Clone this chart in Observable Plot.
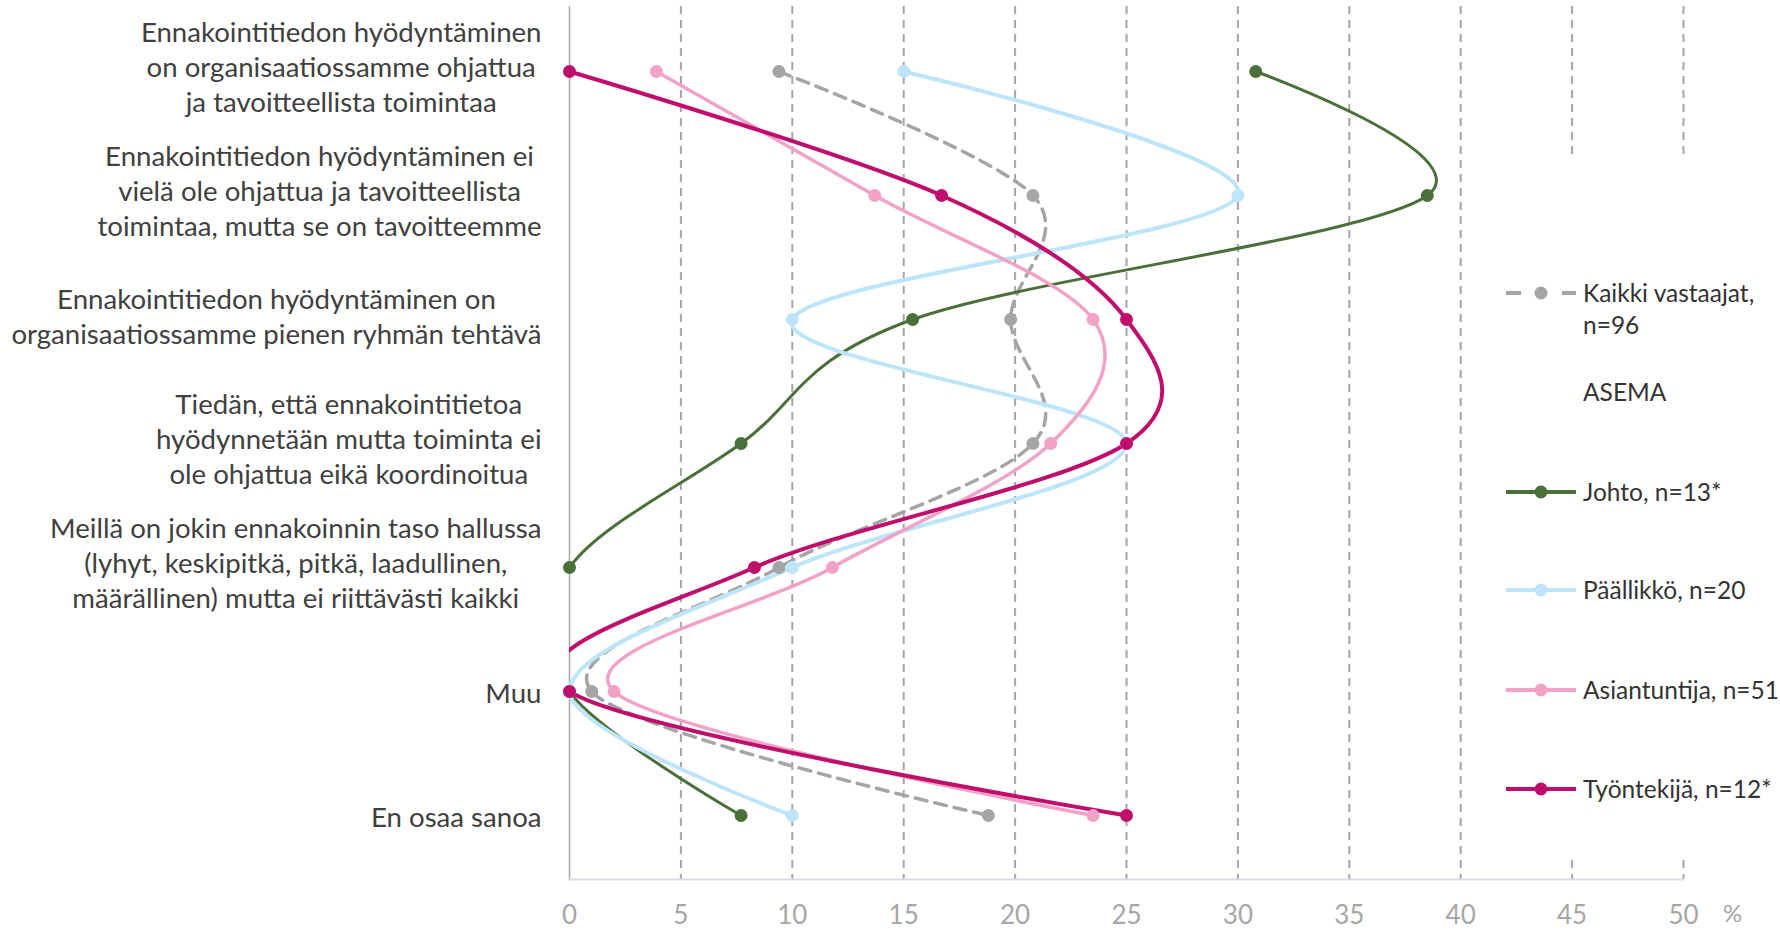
<!DOCTYPE html>
<html>
<head>
<meta charset="utf-8">
<script src="https://cdn.jsdelivr.net/npm/d3@7"></script>
<script src="https://cdn.jsdelivr.net/npm/@observablehq/plot@0.6"></script>
<style>
  body { margin: 0; background: #fff; }
  #wrap { position: relative; width: 1780px; height: 929px; overflow: hidden; }
  #legend { position: absolute; left: 1490px; top: 155px; width: 290px; height: 703px; background: #fff; }
  .lg { position: absolute; left: 93px; font-family: Lato, "Open Sans", sans-serif; font-size: 24.5px; color: #333; line-height: 32px; white-space: nowrap; }
  .sw { position: absolute; left: 16px; }
</style>
</head>
<body>
<div id="wrap"></div>
<script>
// ---- data ----
const categories = [
  "Ennakointitiedon hyödyntäminen\non organisaatiossamme ohjattua\nja tavoitteellista toimintaa",
  "Ennakointitiedon hyödyntäminen ei\nvielä ole ohjattua ja tavoitteellista\ntoimintaa, mutta se on tavoitteemme",
  "Ennakointitiedon hyödyntäminen on\norganisaatiossamme pienen ryhmän tehtävä",
  "Tiedän, että ennakointitietoa\nhyödynnetään mutta toiminta ei\nole ohjattua eikä koordinoitua",
  "Meillä on jokin ennakoinnin taso hallussa\n(lyhyt, keskipitkä, pitkä, laadullinen,\nmäärällinen) mutta ei riittävästi kaikki",
  "Muu",
  "En osaa sanoa"
];
const seriesNames = ["Kaikki vastaajat,\nn=96", "Johto, n=13*", "Päällikkö, n=20", "Asiantuntija, n=51", "Työntekijä, n=12*"];
const kaikki       = [9.4, 20.8, 19.8, 20.8, 9.4, 1.0, 18.8];
const johto        = [30.8, 38.5, 15.4, 7.7, 0, 0, 7.7];
const paallikko    = [15, 30, 10, 25, 10, 0, 10];
const asiantuntija = [3.9, 13.7, 23.5, 21.6, 11.8, 2.0, 23.5];
const tyontekija   = [0, 16.7, 25, 25, 8.3, 0, 25];
const xTicks = [0, 5, 10, 15, 20, 25, 30, 35, 40, 45, 50];
const legendGroupLabel = "ASEMA";
const unitLabel = "%";

// ---- styles ----
const colors = ["#a5a5a5", "#4a7039", "#bde5fa", "#f2a1c7", "#c00e6d"];
const widths = [3.5, 3, 4, 3.5, 4];
const dashes = ["12,8", null, null, null, null];
const FS = 27.6;
const TFS = 26;
const FONT = "Lato, 'Open Sans', sans-serif";

const seriesValues = [kaikki, johto, paallikko, asiantuntija, tyontekija];
const table = [];
seriesValues.forEach((vals, s) => vals.forEach((v, i) => table.push({series: seriesNames[s], cat: categories[i], value: v})));

// measure label widths for centered multi-line blocks
const ctx = document.createElement("canvas").getContext("2d");
ctx.font = `${FS}px Lato`;
const blockW = categories.map(c => Math.max(...c.split("\n").map(l => ctx.measureText(l).width)));

const marks = [];
// grid
marks.push(Plot.ruleX(xTicks.filter(d => d > 0), {stroke: "#a6a6a6", strokeWidth: 2, strokeDasharray: "8,6"}));
marks.push(Plot.ruleX([0], {stroke: "#a6a6a6", strokeWidth: 1.5}));
marks.push(Plot.frame({anchor: "bottom", stroke: "#d5dce3", strokeWidth: 2}));
// lines
seriesNames.forEach((name, s) => {
  marks.push(Plot.line(table.filter(d => d.series === name), {
    x: "value", y: "cat", stroke: colors[s], strokeWidth: widths[s],
    strokeDasharray: dashes[s] || undefined, curve: "cardinal", clip: true
  }));
});
seriesNames.forEach((name, s) => {
  marks.push(Plot.dot(table.filter(d => d.series === name), {
    x: "value", y: "cat", r: 6.5, fill: colors[s], stroke: "none"
  }));
});
// y labels (centered lines, block right-aligned)
categories.forEach((c, i) => {
  const n = c.split("\n").length;
  marks.push(Plot.text([c], {
    y: d => d, text: d => d, frameAnchor: "left", textAnchor: "middle",
    dx: -(28 + blockW[i] / 2), dy: n === 1 ? 0 : (n === 2 ? -4 : -6),
    lineHeight: 1.275, fontSize: FS, fill: "#404040"
  }));
});
// x tick labels
marks.push(Plot.text(xTicks, {x: d => d, text: d => String(d), frameAnchor: "bottom", dy: 36, lineAnchor: "middle", fontSize: TFS, fill: "#a6a6a6"}));
marks.push(Plot.text([unitLabel], {frameAnchor: "bottom-right", dx: 49, dy: 35, lineAnchor: "middle", textAnchor: "middle", fontSize: 24, fill: "#a6a6a6"}));

const chart = Plot.plot({
  width: 1780, height: 929,
  marginLeft: 569, marginRight: 97, marginTop: 6, marginBottom: 50,
  style: {fontFamily: FONT, background: "#fff", overflow: "visible"},
  x: {domain: [0, 50], axis: null},
  y: {type: "point", domain: categories, padding: 0.5, axis: null},
  marks
});
const wrap = document.getElementById("wrap");
wrap.appendChild(chart);

// ---- legend overlay ----
const legend = document.createElement("div");
legend.id = "legend";
wrap.appendChild(legend);
const top0 = 155;
const entries = [
  {kind: "series", s: 0, y: 293},
  {kind: "text", label: legendGroupLabel, y: 392},
  {kind: "series", s: 1, y: 492},
  {kind: "series", s: 2, y: 590},
  {kind: "series", s: 3, y: 690},
  {kind: "series", s: 4, y: 789}
];
entries.forEach(e => {
  const t = document.createElement("div");
  t.className = "lg";
  t.style.top = (e.y - top0 - 16) + "px";
  if (e.kind === "text") { t.textContent = e.label; legend.appendChild(t); return; }
  t.innerHTML = seriesNames[e.s].split("\n").join("<br>");
  legend.appendChild(t);
  const svg = d3.create("svg").attr("class", "sw").attr("width", 72).attr("height", 16)
    .style("top", (e.y - top0 - 8) + "px");
  if (e.s === 0) {
    svg.append("line").attr("x1", 0).attr("x2", 15).attr("y1", 8).attr("y2", 8).attr("stroke", colors[0]).attr("stroke-width", 4);
    svg.append("line").attr("x1", 56).attr("x2", 70).attr("y1", 8).attr("y2", 8).attr("stroke", colors[0]).attr("stroke-width", 4);
  } else {
    svg.append("line").attr("x1", 0).attr("x2", 70).attr("y1", 8).attr("y2", 8).attr("stroke", colors[e.s]).attr("stroke-width", 4);
  }
  svg.append("circle").attr("cx", 35).attr("cy", 8).attr("r", 6.5).attr("fill", colors[e.s]);
  legend.appendChild(svg.node());
});
</script>
</body>
</html>
